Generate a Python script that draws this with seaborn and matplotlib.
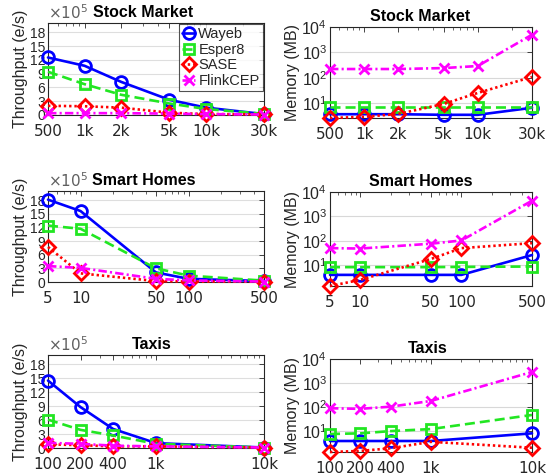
import numpy as np
import pandas as pd
import matplotlib
matplotlib.use("Agg")
import matplotlib.pyplot as plt
import seaborn as sns
from matplotlib.ticker import FixedLocator, FixedFormatter, LogLocator, NullFormatter

# ---------------- data ----------------
systems = ["Wayeb", "Esper8", "SASE", "FlinkCEP"]

stock_x = [500, 1000, 2000, 5000, 10000, 30000]
stock_xlabels = ["500", "1k", "2k", "5k", "10k", "30k"]
stock_thr_wayeb = [12.5, 10.7, 7.2, 3.3, 1.6, 0.2]
stock_thr_esper = [9.4, 6.7, 4.4, 2.5, 1.3, 0.25]
stock_thr_sase = [2.0, 1.9, 1.6, 0.5, 0.2, 0.15]
stock_thr_flink = [0.4, 0.4, 0.4, 0.3, 0.2, 0.1]
stock_mem_wayeb = [3.8, 3.8, 3.8, 3.6, 3.6, 6.8]
stock_mem_esper = [7.4, 7.4, 7.4, 7.4, 7.4, 7.4]
stock_mem_sase = [2.7, 3.0, 3.9, 9.6, 26, 110]
stock_mem_flink = [225, 225, 225, 245, 295, 5000]

home_x = [5, 10, 50, 100, 500]
home_xlabels = ["5", "10", "50", "100", "500"]
home_thr_wayeb = [18.1, 15.6, 2.1, 0.7, 0.2]
home_thr_esper = [12.4, 11.7, 3.0, 1.4, 0.3]
home_thr_sase = [7.7, 1.9, 0.2, 0.1, 0.1]
home_thr_flink = [3.5, 3.1, 0.7, 0.35, 0.1]
home_mem_wayeb = [4.0, 4.0, 4.0, 4.0, 26]
home_mem_esper = [8.3, 8.3, 8.3, 8.5, 8.8]
home_mem_sase = [1.4, 2.5, 18, 50, 80]
home_mem_flink = [50, 48, 76, 103, 4400]

taxi_x = [100, 200, 400, 1000, 10000]
taxi_xlabels = ["100", "200", "400", "1k", "10k"]
taxi_thr_wayeb = [14.5, 8.8, 4.1, 1.05, 0.1]
taxi_thr_esper = [6.1, 3.9, 2.7, 0.9, 0.1]
taxi_thr_sase = [0.8, 0.6, 0.35, 0.35, 0.1]
taxi_thr_flink = [1.1, 0.9, 0.5, 0.35, 0.1]
taxi_mem_wayeb = [4.0, 4.0, 4.0, 4.0, 8.3]
taxi_mem_esper = [7.8, 8.3, 10.3, 12.5, 48]
taxi_mem_sase = [1.4, 1.55, 2.0, 3.7, 2.1]
taxi_mem_flink = [91, 86, 106, 183, 2900]

titles = ["Stock Market", "Smart Homes", "Taxis"]

# ---------------- style ----------------
sns.set_style("white")
plt.rcParams["font.family"] = ["Liberation Sans", "DejaVu Sans"]
plt.rcParams["mathtext.default"] = "regular"

colors = {"Wayeb": "#0000ff", "Esper8": "#22e622", "SASE": "#ff0000", "FlinkCEP": "#ff00ff"}
styles = {"Wayeb": "-", "Esper8": (0, (3.8, 1.9)), "SASE": (0, (0.9, 1.1)), "FlinkCEP": (0, (3.2, 1.2, 0.8, 1.2))}
markers = {"Wayeb": "o", "Esper8": "s", "SASE": "D", "FlinkCEP": "x"}
msizes = {"Wayeb": 8.5, "Esper8": 6.5, "SASE": 7, "FlinkCEP": 6.5}

TXT = "#262626"
XTICK_FONT = dict(family=["DejaVu Sans"], size=11)

W, H = 546, 476
fig = plt.figure(figsize=(W / 100, H / 100), dpi=100)

def frac(x0, y0, x1, y1):
    return [x0 / W, 1 - y1 / H, (x1 - x0) / W, (y1 - y0) / H]

pos_left = [frac(48, 23, 264, 115), frac(48, 191, 264, 282), frac(48, 355, 264, 448)]
pos_right = [frac(330, 27, 532, 118), frac(330, 192, 532, 286), frac(330, 359, 532, 452)]
title_x = [0.44, 0.445, 0.48]

rows = [
    (stock_x, stock_xlabels,
     [stock_thr_wayeb, stock_thr_esper, stock_thr_sase, stock_thr_flink],
     [stock_mem_wayeb, stock_mem_esper, stock_mem_sase, stock_mem_flink]),
    (home_x, home_xlabels,
     [home_thr_wayeb, home_thr_esper, home_thr_sase, home_thr_flink],
     [home_mem_wayeb, home_mem_esper, home_mem_sase, home_mem_flink]),
    (taxi_x, taxi_xlabels,
     [taxi_thr_wayeb, taxi_thr_esper, taxi_thr_sase, taxi_thr_flink],
     [taxi_mem_wayeb, taxi_mem_esper, taxi_mem_sase, taxi_mem_flink]),
]

def style_axes(ax):
    for s in ax.spines.values():
        s.set_visible(True)
        s.set_color(TXT)
        s.set_linewidth(0.8)
    ax.tick_params(axis="both", which="both", direction="in", top=True, right=True,
                   colors=TXT, labelcolor=TXT, labelsize=10)
    ax.tick_params(axis="y", pad=2)
    ax.tick_params(axis="x", pad=6.5)
    ax.tick_params(which="major", length=3.5, width=0.6)
    ax.tick_params(which="minor", length=2, width=0.5)
    for lab in ax.get_xticklabels():
        lab.set_fontfamily(XTICK_FONT["family"])
        lab.set_fontsize(XTICK_FONT["size"])

def draw_series(ax, x, series_list):
    for name, vals in zip(systems, series_list):
        df = pd.DataFrame({"x": x, "y": vals})
        sns.lineplot(data=df, x="x", y="y", ax=ax, color=colors[name],
                     linestyle=styles[name], linewidth=1.9, marker=markers[name],
                     markersize=msizes[name], markeredgewidth=2,
                     markeredgecolor=colors[name], markerfacecolor="none",
                     label=name, clip_on=False, zorder=3)
    for ln in ax.lines:
        ln.set_markerfacecolor("none")
        ln.set_markeredgecolor(ln.get_color())
        ln.set_clip_on(False)

for i, (x, xl, thr, mem) in enumerate(rows):
    # throughput
    ax = fig.add_axes(pos_left[i])
    draw_series(ax, x, thr)
    ax.set_xscale("log")
    ax.set_xlim(min(x), max(x))
    ax.set_ylim(0, 20)
    ax.xaxis.set_major_locator(FixedLocator(x))
    ax.xaxis.set_major_formatter(FixedFormatter(xl))
    ax.xaxis.set_minor_locator(LogLocator(base=10, subs=np.arange(2, 10)))
    ax.xaxis.set_minor_formatter(NullFormatter())
    ax.yaxis.set_major_locator(FixedLocator([0, 3, 6, 9, 12, 15, 18]))
    ax.grid(True, axis="y", color="#dedede", linewidth=0.8)
    ax.set_axisbelow(True)
    style_axes(ax)
    ax.set_xlabel("")
    ax.set_ylabel("Throughput (e/s)", fontsize=11.5, color=TXT, labelpad=1)
    ax.set_title(titles[i], fontsize=11.5, fontweight="bold", x=title_x[i], pad=4, color="black")
    ax.text(0.0, 1.015, r"$\times10^{5}$", transform=ax.transAxes, ha="left", va="bottom",
            fontsize=11, color="#606060", family=["DejaVu Sans"])
    if i == 0:
        leg = ax.legend(loc="upper right", fontsize=10.5, frameon=True, fancybox=False,
                        borderpad=0.2, labelspacing=0.1, handlelength=0.9,
                        handletextpad=0.2, borderaxespad=0.1)
        leg.get_frame().set_edgecolor(TXT)
        leg.get_frame().set_linewidth(0.8)
        for t in leg.get_texts():
            t.set_color(TXT)
    else:
        lg = ax.get_legend()
        if lg is not None:
            lg.remove()

    # memory
    ax2 = fig.add_axes(pos_right[i])
    draw_series(ax2, x, mem)
    lg = ax2.get_legend()
    if lg is not None:
        lg.remove()
    ax2.set_xscale("log")
    ax2.set_yscale("log")
    ax2.set_xlim(min(x), max(x))
    ax2.set_ylim(min(min(m) for m in mem), 1e4)
    ax2.xaxis.set_major_locator(FixedLocator(x))
    ax2.xaxis.set_major_formatter(FixedFormatter(xl))
    ax2.xaxis.set_minor_locator(LogLocator(base=10, subs=np.arange(2, 10)))
    ax2.xaxis.set_minor_formatter(NullFormatter())
    ax2.yaxis.set_major_locator(FixedLocator([10, 100, 1000, 10000]))
    ax2.yaxis.set_major_formatter(FixedFormatter([r"$10^{1}$", r"$10^{2}$", r"$10^{3}$", r"$10^{4}$"]))
    ax2.yaxis.set_minor_locator(LogLocator(base=10, subs=np.arange(2, 10)))
    ax2.yaxis.set_minor_formatter(NullFormatter())
    ax2.grid(True, axis="y", which="major", color="#d8d8d8", linewidth=0.8)
    ax2.grid(True, axis="y", which="minor", color="#ececec", linewidth=0.6)
    ax2.set_axisbelow(True)
    style_axes(ax2)
    ax2.tick_params(axis="y", labelsize=11.5)
    ax2.set_xlabel("")
    ax2.set_ylabel("Memory (MB)", fontsize=11.5, color=TXT, labelpad=1)
    ax2.set_title(titles[i], fontsize=11.5, fontweight="bold", x=title_x[i] + 0.005, pad=4, color="black")

fig.savefig("out.png", dpi=100)
